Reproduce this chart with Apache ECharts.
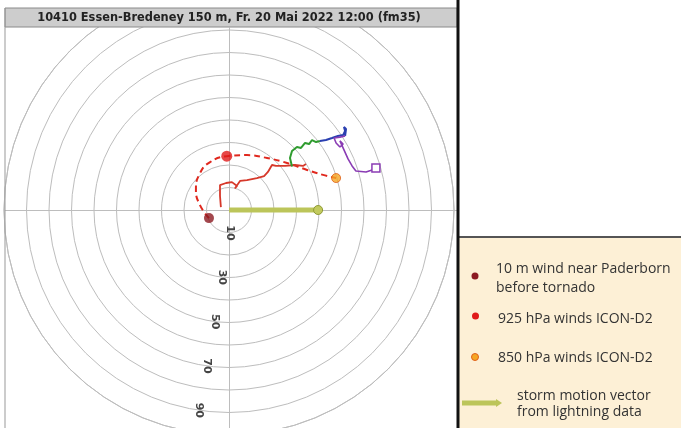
<!DOCTYPE html>
<html>
<head>
<meta charset="utf-8">
<script src="https://cdn.jsdelivr.net/npm/echarts@6/dist/echarts.min.js"></script>
<style>
  html, body { margin: 0; padding: 0; background: #fff; }
  #hodo { width: 681px; height: 428px; }
</style>
</head>
<body>
<div id="hodo"></div>
<script>
// hodograph data, u/v components in kt
var ringLabels = ['10', '30', '50', '70', '90'];

var dashed925 = [[-8.9, -3.6], [-12.9, 2.2], [-14.7, 8.9], [-12.9, 16.4], [-8.4, 21.3], [-1.0, 23.9],
    [8.0, 24.4], [16.9, 23.1], [25.8, 20.9], [34.7, 17.8], [41.8, 15.6], [47.6, 14.2]];

var redTrace = [[-3.6, 1.3], [-4.0, 6.2], [-4.0, 11.1], [-1.3, 12.0], [1.3, 12.4], [3.6, 10.7], [2.6, 9.6],
    [4.9, 12.9], [8.0, 13.3], [12.4, 14.2], [15.6, 15.1], [17.3, 16.9], [19.1, 20.0], [20.9, 19.6],
    [24.9, 19.6], [29.3, 20.0], [32.9, 19.6], [34.2, 20.4]];
var greenTrace = [[28.0, 19.3], [27.1, 23.1], [28.0, 26.2], [30.2, 28.0], [32.0, 27.6], [33.8, 29.8],
    [35.6, 29.3], [36.9, 31.1], [38.7, 30.2], [40.4, 30.7]];
var blueTrace = [[40.4, 30.7], [43.1, 31.1], [45.8, 32.0], [48.4, 32.9], [50.7, 33.3], [51.6, 35.1],
    [51.1, 36.9], [52.0, 36.0], [51.6, 32.9]];
var purpleTrace = [[51.6, 32.9], [49.3, 32.4], [46.7, 32.0], [47.6, 29.8], [49.3, 28.0], [50.7, 29.3],
    [49.3, 30.7], [51.1, 26.7], [52.9, 22.7], [54.7, 19.6], [56.4, 17.3], [60.9, 16.9], [63.6, 17.8], [65.3, 18.7]];

var wind10m = [-8.9, -3.6];
var wind925 = [-1.0, 23.9];
var wind850 = [47.6, 14.2];
var stormMotion = [[0, 0], [39.6, 0]];

var legendTexts = ['10 m wind near Paderborn\nbefore tornado', '925 hPa winds ICON-D2', '850 hPa winds ICON-D2',
    'storm motion vector\nfrom lightning data'];

var chartDom = document.getElementById('hodo');
var myChart = echarts.init(chartDom);

var gridColor = '#bdbdbd';
var legendFont = '14px "Open Sans"';

option = {
    animation: false,
    backgroundColor: '#fff',
    polar: {
        center: [229, 210],
        radius: 225
    },
    angleAxis: {
        type: 'value',
        startAngle: 260,
        min: 0,
        max: 360,
        axisLine: { show: true, lineStyle: { color: gridColor } },
        axisTick: { show: false },
        axisLabel: { show: false },
        splitLine: { show: false }
    },
    radiusAxis: {
        type: 'value',
        min: 0,
        max: 100,
        interval: 10,
        axisLine: { show: false },
        axisTick: { show: false },
        splitLine: { show: true, lineStyle: { color: gridColor, width: 1 } },
        axisLabel: {
            show: true,
            rotate: -90,
            margin: 5,
            align: 'center',
            color: '#444',
            fontSize: 11,
            fontWeight: 'bold',
            fontFamily: 'DejaVu Sans',
            formatter: function (v) {
                var s = String(v);
                return ringLabels.indexOf(s) >= 0 ? s : '';
            }
        }
    },
    grid: {
        left: 5,
        top: 28,
        width: 453,
        height: 400
    },
    xAxis: {
        type: 'value',
        min: -224 / 2.25,
        max: 229 / 2.25,
        axisLine: { show: true, onZero: true, lineStyle: { color: gridColor } },
        axisTick: { show: false },
        axisLabel: { show: false },
        splitLine: { show: false }
    },
    yAxis: {
        type: 'value',
        min: -218 / 2.25,
        max: 182 / 2.25,
        axisLine: { show: true, onZero: true, lineStyle: { color: gridColor } },
        axisTick: { show: false },
        axisLabel: { show: false },
        splitLine: { show: false }
    },
    series: [
        {
            // storm motion vector
            type: 'line',
            data: [
                { value: stormMotion[0], symbol: 'none' },
                { value: stormMotion[1], symbol: 'circle', symbolSize: 9,
                  itemStyle: { color: '#c2ca5e', borderColor: '#8f9a35', borderWidth: 1 } }
            ],
            lineStyle: { color: '#bcc55a', width: 5 },
            z: 3
        },
        {
            type: 'line',
            smooth: true,
            symbol: 'none',
            data: dashed925,
            lineStyle: { color: '#e0281e', width: 2, type: [6, 4] },
            z: 4
        },
        {
            type: 'line',
            symbol: 'none',
            data: redTrace,
            lineStyle: { color: '#d6382a', width: 1.8 },
            z: 5
        },
        {
            type: 'line',
            symbol: 'none',
            data: greenTrace,
            lineStyle: { color: '#2f9c2f', width: 2 },
            z: 5
        },
        {
            type: 'line',
            symbol: 'none',
            data: blueTrace,
            lineStyle: { color: '#2a3fb0', width: 2 },
            z: 5
        },
        {
            type: 'line',
            data: purpleTrace.map(function (p, i) {
                if (i === purpleTrace.length - 1) {
                    return { value: p, symbol: 'rect', symbolSize: 8,
                        itemStyle: { color: '#fff', borderColor: '#8a3cb4', borderWidth: 1.5 } };
                }
                return { value: p, symbol: 'none' };
            }),
            lineStyle: { color: '#8a3cb4', width: 1.6 },
            z: 5
        },
        {
            type: 'scatter',
            symbolSize: 10,
            data: [wind10m],
            itemStyle: { color: '#8c1a22' },
            z: 6
        },
        {
            type: 'scatter',
            symbolSize: 11,
            data: [wind925],
            itemStyle: { color: '#e01a1a' },
            z: 6
        },
        {
            type: 'scatter',
            symbolSize: 9,
            data: [wind850],
            itemStyle: { color: '#f5a623', borderColor: '#e0601a', borderWidth: 1 },
            z: 6
        }
    ],
    graphic: [
        // cover the ring tops above the title bar
        { type: 'rect', z: 100, shape: { x: 0, y: 0, width: 458, height: 8 }, style: { fill: '#fff' } },
        { type: 'rect', z: 100, shape: { x: 5, y: 8, width: 452, height: 19 },
          style: { fill: '#cdcdcd', stroke: '#8a8a8a', lineWidth: 1 } },
        { type: 'text', z: 101, x: 229, y: 18,
          style: { text: '10410 Essen-Bredeney 150 m, Fr. 20 Mai 2022 12:00 (fm35)', fill: '#222',
                   font: 'bold 11.4px "DejaVu Sans"', textAlign: 'center', textVerticalAlign: 'middle' } },
        // frame
        { type: 'line', z: 100, shape: { x1: 5, y1: 8, x2: 5, y2: 428 }, style: { stroke: '#999', lineWidth: 1 } },
        // legend box
        { type: 'rect', z: 100, shape: { x: 459, y: 237, width: 222, height: 191 }, style: { fill: '#fdf0d6' } },
        { type: 'line', z: 101, shape: { x1: 458, y1: 237, x2: 681, y2: 237 }, style: { stroke: '#555', lineWidth: 2 } },
        { type: 'line', z: 102, shape: { x1: 458, y1: 0, x2: 458, y2: 428 }, style: { stroke: '#111', lineWidth: 3 } },

        { type: 'circle', z: 101, shape: { cx: 475, cy: 276, r: 3.5 }, style: { fill: '#8c1a22' } },
        { type: 'text', z: 101, x: 496, y: 279,
          style: { text: legendTexts[0], fill: '#333', font: legendFont, lineHeight: 19, textVerticalAlign: 'middle' } },
        { type: 'circle', z: 101, shape: { cx: 475.5, cy: 316, r: 3.5 }, style: { fill: '#e01a1a' } },
        { type: 'text', z: 101, x: 498, y: 319,
          style: { text: legendTexts[1], fill: '#333', font: legendFont, textVerticalAlign: 'middle' } },
        { type: 'circle', z: 101, shape: { cx: 475, cy: 357, r: 3.5 }, style: { fill: '#f5a623', stroke: '#e0601a', lineWidth: 1 } },
        { type: 'text', z: 101, x: 498, y: 358,
          style: { text: legendTexts[2], fill: '#333', font: legendFont, textVerticalAlign: 'middle' } },
        { type: 'line', z: 101, shape: { x1: 462, y1: 403, x2: 497, y2: 403 }, style: { stroke: '#bcc55a', lineWidth: 5 } },
        { type: 'polygon', z: 101, shape: { points: [[496, 399], [502, 403], [496, 407]] }, style: { fill: '#bcc55a' } },
        { type: 'text', z: 101, x: 517, y: 404,
          style: { text: legendTexts[3], fill: '#333', font: legendFont, lineHeight: 16, textVerticalAlign: 'middle' } }
    ]
};

option && myChart.setOption(option);
new ResizeObserver(() => myChart.resize()).observe(chartDom);
</script>
</body>
</html>
